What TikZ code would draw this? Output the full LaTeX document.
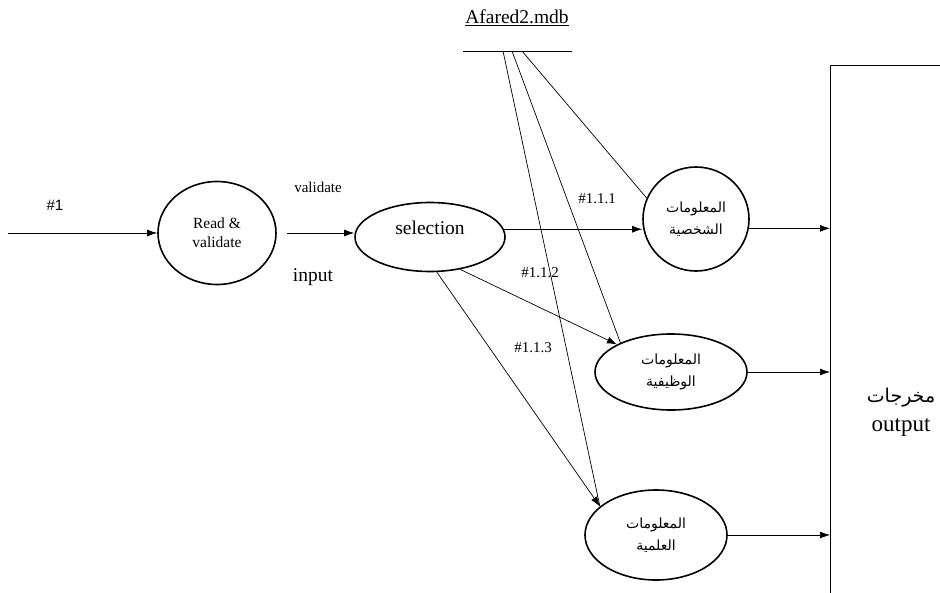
\documentclass[tikz,border=0pt]{standalone}
\usepackage{fontspec}
\setmainfont{Liberation Serif}
\newfontfamily\arabicfont[Script=Arabic]{DejaVu Sans}
\newfontfamily\latinsans{Liberation Sans}
\TeXXeTstate=1
\usetikzlibrary{shapes.geometric, arrows.meta, positioning}

\begin{document}
\begin{tikzpicture}[x=1pt, y=-1pt,
    proc/.style={draw, ellipse, line width=1.6pt, inner sep=0pt},
    flow/.style={-{Latex[length=10pt,width=7pt]}, line width=0.7pt},
    link/.style={line width=0.7pt},
    lbl/.style={font=\fontsize{15}{18}\selectfont},
    arab/.style={font=\arabicfont\fontsize{14}{22}\selectfont, align=center}]
    \useasboundingbox (0,0) rectangle (940,592);
    \clip (0,0) rectangle (940,592);
    % Processes
    \node[proc, minimum width=118pt, minimum height=103pt, align=center,
          font=\fontsize{15.5}{19}\selectfont] (rv) at (217,233) {Read \&\\validate};
    \node[proc, minimum width=150pt, minimum height=69pt, text depth=18pt,
          font=\fontsize{19.5}{22}\selectfont] (sel) at (430,237) {selection};
    \node[proc, arab, minimum width=106pt, minimum height=104pt] (c1) at (696,219)
        {\beginR المعلومات\endR\\\beginR الشخصية\endR};
    \node[proc, arab, minimum width=152pt, minimum height=76pt] (e2) at (671,372)
        {\beginR المعلومات\endR\\\beginR الوظيفية\endR};
    \node[proc, arab, minimum width=142pt, minimum height=90pt] (e3) at (656,535)
        {\beginR المعلومات\endR\\\beginR العلمية\endR};
    % Output box
    \node[draw, line width=0.8pt, minimum width=160pt, minimum height=560pt,
          anchor=north west] (out) at (830,65) {};
    \node[align=center, font=\fontsize{23}{29}\selectfont] (outlbl) at (901,412)
        {{\arabicfont\fontsize{19}{29}\selectfont\beginR مخرجات\endR}\\output};
    % Data store
    \coordinate (stL) at (463,51);
    \coordinate (stR) at (572,51);
    \coordinate (s1) at (503,51);
    \coordinate (s2) at (512,51);
    \coordinate (s3) at (522,51);
    \draw[link] (stL) -- (stR);
    \node[font=\fontsize{19.5}{22}\selectfont] (db) at (517,18) {\underline{Afared2.mdb}};
    % Labels
    \coordinate (in) at (8,233);
    \node[font=\latinsans\fontsize{15}{18}\selectfont] (l1) at (55,205) {\#1};
    \node[lbl] (lv) at (318,187) {validate};
    \node[font=\fontsize{19.5}{22}\selectfont] (li) at (313,277) {input};
    \node[lbl] (l111) at (597,199) {\#1.1.1};
    \node[lbl] (l112) at (540,273) {\#1.1.2};
    \node[lbl] (l113) at (533,348) {\#1.1.3};
    % Flows
    \draw[flow] (in) -- (rv.west);
    \draw[flow] ([xshift=10pt]rv.east) -- (sel.west |- rv.east);
    \draw[flow] (sel.6) -- (sel.6 -| c1.west);
    \draw[flow] (sel.-47) -- (e2.153);
    \draw[flow] (sel.-79) -- (e3.153);
    \draw[flow] (c1.-10) -- (c1.-10 -| out.west);
    \draw[flow] (e2.east) -- (e2.east -| out.west);
    \draw[flow] (e3.east) -- (e3.east -| out.west);
    % Store links
    \draw[link] (s1) -- (e3.153);
    \draw[link] (s2) -- (e2.150);
    \draw[link] (s3) -- (c1.157);
\end{tikzpicture}
\end{document}
